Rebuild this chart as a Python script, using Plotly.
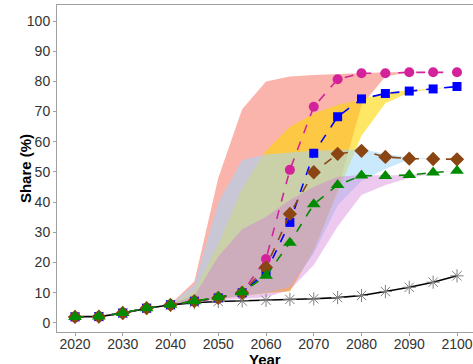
import plotly.graph_objects as go

years = list(range(2020, 2101, 5))
band_years = list(range(2040, 2101, 5))

magenta_vals = [2.0, 2.1, 3.3, 4.9, 6.0, 7.2, 8.3, 10.0, 21.2, 50.7, 71.6, 80.7, 82.7, 82.7, 83.0, 83.0, 83.0]
blue_vals = [2.0, 2.1, 3.3, 4.9, 6.0, 7.2, 8.3, 10.0, 16.8, 33.3, 56.2, 68.3, 74.2, 76.0, 76.8, 77.5, 78.3]
brown_vals = [2.0, 2.1, 3.3, 4.9, 6.0, 7.2, 8.3, 10.0, 18.4, 36.1, 49.9, 56.0, 57.0, 55.0, 54.4, 54.3, 54.2]
green_vals = [2.0, 2.1, 3.3, 4.9, 6.0, 7.2, 8.5, 10.2, 15.6, 26.6, 39.3, 45.7, 48.8, 48.7, 49.0, 49.8, 50.4]
black_vals = [2.1, 2.1, 3.2, 4.8, 6.0, 6.7, 7.1, 7.3, 7.5, 7.8, 8.0, 8.4, 9.1, 10.4, 11.8, 13.5, 15.6]

red_lo = [6.0, 7.0, 8.0, 9.0, 10.0, 10.5, 24.0, 44.0, 72.0, 81.6, 83.0, 83.0, 83.0]
red_hi = [6.3, 13.7, 48.0, 70.8, 80.0, 81.6, 82.1, 82.4, 82.7, 83.0, 83.0, 83.0, 83.0]
yel_lo = [6.0, 7.0, 8.0, 9.0, 9.8, 10.5, 24.0, 43.0, 62.0, 72.8, 76.3, 77.4, 78.2]
yel_hi = [6.2, 10.5, 26.0, 44.6, 57.0, 65.0, 69.4, 72.2, 74.0, 76.5, 77.0, 77.6, 78.4]
blu_lo = [6.0, 7.0, 8.0, 9.0, 10.0, 12.0, 23.0, 39.0, 47.0, 51.0, 54.2, 54.3, 54.2]
blu_hi = [6.2, 12.6, 40.0, 54.0, 55.8, 56.4, 57.0, 57.3, 57.5, 56.0, 54.8, 54.4, 54.2]
pur_lo = [6.0, 7.0, 7.5, 8.0, 8.5, 10.9, 19.2, 31.9, 42.4, 45.7, 48.0, 49.5, 50.3]
pur_hi = [6.2, 9.0, 22.0, 31.0, 35.2, 40.7, 45.1, 48.4, 49.0, 48.8, 49.0, 49.8, 50.4]

x_ticks = [2020, 2030, 2040, 2050, 2060, 2070, 2080, 2090, 2100]
y_ticks = [0, 10, 20, 30, 40, 50, 60, 70, 80, 90, 100]

fig = go.Figure()

bands = [
    (red_lo, red_hi, "rgba(246,106,90,0.5)"),
    (yel_lo, yel_hi, "rgba(255,215,0,0.6)"),
    (blu_lo, blu_hi, "rgba(160,215,250,0.55)"),
    (pur_lo, pur_hi, "rgba(210,120,215,0.4)"),
]
for lo, hi, col in bands:
    fig.add_trace(go.Scatter(x=band_years, y=lo, mode="lines", line=dict(width=0),
                             showlegend=False, hoverinfo="skip"))
    fig.add_trace(go.Scatter(x=band_years, y=hi, mode="lines", line=dict(width=0),
                             fill="tonexty", fillcolor=col, showlegend=False, hoverinfo="skip"))

fig.add_trace(go.Scatter(x=years, y=black_vals, mode="lines+markers",
                         line=dict(color="black", width=1.6),
                         marker=dict(symbol="asterisk-open", size=11, color="#808080",
                                     line=dict(color="#808080", width=1)),
                         showlegend=False))

series = [
    (magenta_vals, "#D4239A", "circle", 10),
    (blue_vals, "#0000FF", "square", 9),
    (brown_vals, "#8B4513", "diamond", 11),
    (green_vals, "#008B00", "triangle-up", 12),
]
for vals, col, sym, sz in series:
    fig.add_trace(go.Scatter(x=years, y=vals, mode="lines+markers",
                             line=dict(color=col, width=1.6, dash="dash"),
                             marker=dict(symbol=sym, size=sz, color=col),
                             showlegend=False))

fig.update_layout(
    width=473, height=364,
    margin=dict(l=57, r=0, t=5, b=32, autoexpand=False),
    paper_bgcolor="white", plot_bgcolor="white",
    font=dict(family="Liberation Sans, Arial, sans-serif", color="#333333"),
    annotations=[
        dict(text="<b>Year</b>", xref="paper", yref="paper", x=0.5, y=-0.083,
             xanchor="center", yanchor="middle", showarrow=False,
             font=dict(size=15, color="black")),
        dict(text="<b>Share (%)</b>", xref="paper", yref="paper", x=-0.0755, y=0.5,
             xanchor="center", yanchor="middle", showarrow=False, textangle=-90,
             font=dict(size=15, color="black")),
    ],
)
fig.update_xaxes(range=[2016.23, 2103.35], tickvals=x_ticks, showgrid=False, zeroline=False,
                 showline=True, linecolor="#A0A0A0", linewidth=1, mirror=True,
                 ticks="outside", ticklen=3, tickcolor="#A0A0A0", automargin=False,
                 ticklabelstandoff=-4,
                 tickfont=dict(size=14, color="#333333"))
fig.update_yaxes(range=[-3, 105.3], tickvals=y_ticks, showgrid=False, zeroline=False,
                 showline=True, linecolor="#A0A0A0", linewidth=1,
                 ticks="outside", ticklen=3, tickcolor="#A0A0A0", automargin=False,
                 tickfont=dict(size=14, color="#333333"))

fig.write_html("out.html", config={"displayModeBar": False},
               post_script="document.body.style.margin='0';")
